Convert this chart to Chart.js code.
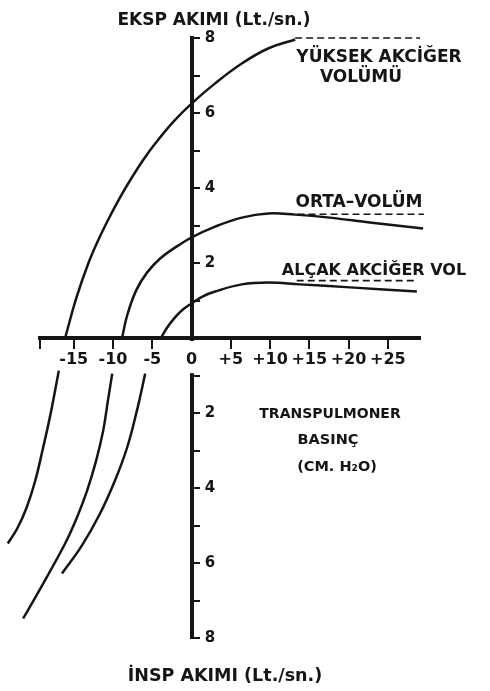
<!DOCTYPE html>
<html>
<head>
<meta charset="utf-8">
<script src="https://cdn.jsdelivr.net/npm/chart.js@4/dist/chart.umd.min.js"></script>
<style>
  html, body { margin: 0; padding: 0; background: #fff; }
  #wrap { position: relative; width: 490px; height: 691px; }
</style>
</head>
<body>
<div id="wrap"><canvas id="c"></canvas></div>
<script>
// Transpulmonary pressure (cm H2O) against flow (L/s) at three lung volumes.
// Expiratory branches (flow above zero)
const highExpPressure = [-16.1, -14.7, -13.2, -11.9, -10.6, -9.1, -7.6, -6.05, -4.65, -2.3, 0, 3.0, 6.4, 9.75, 13.2];
const highExpFlow     = [0, 1.05, 1.96, 2.6, 3.16, 3.75, 4.28, 4.78, 5.18, 5.77, 6.25, 6.79, 7.32, 7.72, 7.96];
const midExpPressure  = [-8.85, -8.2, -7.05, -5.65, -4.0, -2.1, 0, 3.0, 6.4, 9.75, 13.2, 17.6, 22.7, 29.5];
const midExpFlow      = [0, 0.6, 1.27, 1.75, 2.12, 2.41, 2.68, 2.97, 3.21, 3.32, 3.29, 3.21, 3.08, 2.92];
const lowExpPressure  = [-3.9, -3.1, -2.1, -1.1, 0, 1.45, 3.0, 6.4, 9.75, 13.8, 20.2, 28.7];
const lowExpFlow      = [0, 0.28, 0.55, 0.76, 0.92, 1.11, 1.24, 1.43, 1.48, 1.43, 1.35, 1.24];

// Inspiratory branches (flow below zero)
const highInsPressure = [-16.9, -18.0, -18.9, -19.9, -21.0, -22.2, -23.4];
const highInsFlow     = [-0.87, -2.07, -2.92, -3.80, -4.52, -5.08, -5.48];
const midInsPressure  = [-10.1, -10.65, -11.25, -12.15, -13.3, -14.6, -16.1, -19.55, -21.45];
const midInsFlow      = [-0.95, -1.67, -2.47, -3.27, -4.07, -4.79, -5.48, -6.79, -7.48];
const lowInsPressure  = [-5.9, -6.95, -8.2, -9.75, -11.65, -13.95, -16.5];
const lowInsFlow      = [-0.95, -1.93, -2.92, -3.80, -4.68, -5.53, -6.28];

// Maximum flow plateaus (dashed)
const highPlateauPressure = [13.2, 29.1];
const highPlateauFlow     = [8, 8];
const midPlateauPressure  = [13.5, 29.6];
const midPlateauFlow      = [3.3, 3.3];
const lowPlateauPressure  = [13.4, 28.6];
const lowPlateauFlow      = [1.53, 1.53];

// Axis ticks
const xTickValues  = [-15, -10, -5, 0, 5, 10, 15, 20, 25];
const yTickValues  = [-8, -7, -6, -5, -4, -3, -2, -1, 0, 1, 2, 3, 4, 5, 6, 7, 8];
const yLabelValues = [-8, -6, -4, -2, 2, 4, 6, 8];
const X_MIN = -19.3, X_MAX = 29.1, Y_MIN = -8, Y_MAX = 8;

const INK = '#151515';
const FONT = "'DejaVu Sans', sans-serif";

const points = (p, f) => p.map((v, i) => ({ x: v, y: f[i] }));
const curve = (p, f) => ({
  data: points(p, f), borderColor: INK, borderWidth: 2.5,
  pointRadius: 0, tension: 0.4, fill: false, clip: false
});
const plateau = (p, f) => ({
  data: points(p, f), borderColor: INK, borderWidth: 1.6, borderDash: [7, 4],
  pointRadius: 0, tension: 0, fill: false, clip: false
});

// Free-standing captions: axis names and curve names
const captions = [
  { text: 'EKSP AKIMI (Lt./sn.)', x: 214, y: 21, size: 17 },
  { text: 'YÜKSEK AKCİĞER', x: 379, y: 58, size: 17 },
  { text: 'VOLÜMÜ', x: 361, y: 78, size: 17 },
  { text: 'ORTA–VOLÜM', x: 359, y: 203, size: 17 },
  { text: 'ALÇAK AKCİĞER VOL', x: 374, y: 271, size: 16 },
  { text: 'TRANSPULMONER', x: 330, y: 414, size: 14 },
  { text: 'BASINÇ', x: 328, y: 440, size: 14.5 },
  { text: '(CM. H₂O)', x: 337, y: 467, size: 14.5 },
  { text: 'İNSP AKIMI (Lt./sn.)', x: 225, y: 676, size: 17.5 }
];
const captionPlugin = {
  id: 'captions',
  afterDraw(chart) {
    const ctx = chart.ctx;
    ctx.save();
    ctx.fillStyle = INK;
    ctx.textAlign = 'center';
    ctx.textBaseline = 'middle';
    captions.forEach(c => {
      ctx.font = `bold ${c.size}px ${FONT}`;
      ctx.fillText(c.text, c.x, c.y);
    });
    ctx.restore();
  }
};

new Chart(document.getElementById('c'), {
  type: 'line',
  data: {
    datasets: [
      curve(highExpPressure, highExpFlow),
      curve(midExpPressure, midExpFlow),
      curve(lowExpPressure, lowExpFlow),
      curve(highInsPressure, highInsFlow),
      curve(midInsPressure, midInsFlow),
      curve(lowInsPressure, lowInsFlow),
      plateau(highPlateauPressure, highPlateauFlow),
      plateau(midPlateauPressure, midPlateauFlow),
      plateau(lowPlateauPressure, lowPlateauFlow)
    ]
  },
  options: {
    responsive: true,
    maintainAspectRatio: false,
    animation: false,
    events: [],
    layout: { padding: { left: 40, right: 70, top: 38, bottom: 53 } },
    plugins: { legend: { display: false }, tooltip: { enabled: false } },
    scales: {
      x: {
        type: 'linear',
        position: { y: 0 },
        min: X_MIN, max: X_MAX,
        afterBuildTicks: s => { s.ticks = [X_MIN, ...xTickValues].map(v => ({ value: v })); },
        grid: { display: true, drawOnChartArea: false, drawTicks: true, tickLength: 9, color: INK, lineWidth: 2 },
        border: { display: true, color: INK, width: 4 },
        ticks: {
          autoSkip: false, maxRotation: 0, minRotation: 0, padding: 3, color: INK,
          font: { family: FONT, weight: 'bold', size: 16 },
          callback: v => xTickValues.includes(v) ? (v > 0 ? '+' + v : String(v)) : '',
          showLabelBackdrop: c => !!(c.tick && c.tick.value === 0),
          backdropColor: '#ffffff',
          backdropPadding: { top: 9, bottom: 4, left: 3, right: 3 }
        }
      },
      y: {
        type: 'linear',
        position: { x: 0 },
        min: Y_MIN, max: Y_MAX,
        afterBuildTicks: s => { s.ticks = yTickValues.map(v => ({ value: v })); },
        grid: { display: true, drawOnChartArea: false, drawTicks: true, tickLength: -10, color: INK, lineWidth: 2 },
        border: { display: true, color: INK, width: 4, z: -1 },
        ticks: { display: false }
      },
      yLab: {
        type: 'linear',
        position: { x: 3.0 },
        min: Y_MIN, max: Y_MAX,
        afterBuildTicks: s => { s.ticks = yLabelValues.map(v => ({ value: v })); },
        grid: { display: false, drawTicks: false },
        border: { display: false },
        ticks: {
          padding: 0, color: INK,
          font: { family: FONT, weight: 'bold', size: 15 },
          callback: v => String(Math.abs(v))
        }
      }
    }
  },
  plugins: [captionPlugin]
});
</script>
</body>
</html>
